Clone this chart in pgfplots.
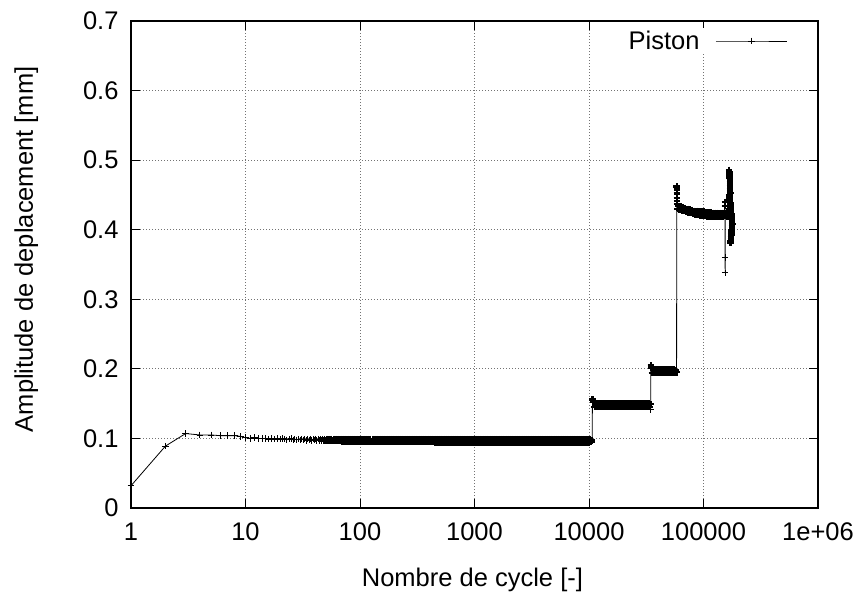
\documentclass[border=0pt]{standalone}
\usepackage{pgfplots}
\pgfplotsset{compat=1.18}
\usepackage{fontspec}
\setmainfont{Liberation Sans}
\begin{document}
\begin{tikzpicture}[font=\fontsize{25.5}{30}\selectfont]
\useasboundingbox (0,0) rectangle (861pt,594pt);
\begin{axis}[
  at={(131pt,86pt)}, anchor=south west,
  scale only axis, width=687pt, height=487pt,
  xmode=log, log basis x=10,
  xmin=1, xmax=1e6, ymin=0, ymax=0.7,
  xtick={1,10,100,1000,10000,100000,1000000},
  xticklabels={1,10,100,1000,10000,100000,1e+06},
  ytick={0,0.1,0.2,0.3,0.4,0.5,0.6,0.7},
  yticklabels={0,0.1,0.2,0.3,0.4,0.5,0.6,0.7},
  grid=major,
  major grid style={black!55, line width=0.9pt, dash pattern=on 1pt off 2pt},
  axis line style={line width=1.8pt},
  tick style={black, line width=1pt},
  major tick length=9pt, minor tick length=4.5pt,
  tick align=inside,
  yticklabel style={xshift=-9pt},
  xticklabel style={yshift=-11pt},
  xlabel={Nombre de cycle [-]},
  ylabel={Amplitude de deplacement [mm]},
  xlabel style={at={(axis description cs:0.497,-0.1612)}, anchor=base},
  ylabel style={at={(axis description cs:-0.143,0.531)}, anchor=base},
  legend style={draw=none, fill=white, at={(0.957,0.986)}, anchor=north east, inner sep=1pt, column sep=14pt},
  legend plot pos=right,
  legend image code/.code={\draw[mark repeat=2,mark phase=2,#1] plot coordinates {(0pt,0pt)(35.5pt,0pt)(71pt,0pt)};},
  thin/.style={black, line width=0.8pt, mark=+, mark size=3.3pt, mark options={line width=0.9pt}},
  dense/.style={black, line width=0.8pt, mark=+, mark size=3.3pt, mark options={line width=2.3pt}},
]
\addplot[thin] coordinates {
(1,0.032) (2,0.089) (3,0.107) (4,0.105) (5,0.105) (6,0.104) (7,0.104) (8,0.104) (9,0.103) (10,0.101)
(11,0.100) (12,0.101) (13,0.100) (14,0.100) (15,0.100) (16,0.099) (17,0.100) (18,0.099) (19,0.100) (20,0.099)
(21,0.100) (22,0.099) (23,0.098) (24,0.099) (25,0.100) (26,0.098) (27,0.099) (28,0.098) (29,0.099) (30,0.098)
(31,0.099) (32,0.098) (33,0.099) (34,0.097) (35,0.099) (36,0.098) (37,0.099) (38,0.097) (39,0.099) (40,0.098)
(41,0.099) (42,0.097) (43,0.099) (44,0.097) (45,0.099) (46,0.097) (47,0.099) (48,0.097) (49,0.099) (50,0.097)
};
\addlegendentry{Piston}
\addplot[dense, forget plot] coordinates {
(50,0.097)
(51.3,0.099) (52.5,0.097) (53.7,0.099) (55.0,0.097) (56.2,0.099) (57.5,0.097) (58.9,0.099) (60.3,0.097) (61.7,0.099) (63.1,0.097)
(64.6,0.099) (66.1,0.097) (67.6,0.099) (69.2,0.096) (70.8,0.099) (72.4,0.096) (74.1,0.099) (75.9,0.096) (77.6,0.099) (79.4,0.096)
(81.3,0.099) (83.2,0.096) (85.1,0.099) (87.1,0.096) (89.1,0.099) (91.2,0.096) (93.3,0.099) (95.5,0.096) (97.7,0.099)
(100,0.096) (102,0.099) (105,0.096) (107,0.099) (110,0.096) (112,0.099) (115,0.096) (117,0.099) (120,0.096) (123,0.099)
(126,0.096) (129,0.099) (132,0.096) (135,0.099) (138,0.096) (141,0.099) (145,0.095) (148,0.099) (151,0.095) (155,0.099)
(158,0.095) (162,0.099) (166,0.095) (170,0.099) (174,0.095) (178,0.099) (182,0.095) (186,0.099) (191,0.095) (195,0.099)
(200,0.095) (204,0.099) (209,0.095) (214,0.099) (219,0.095) (224,0.099) (229,0.095) (234,0.099) (240,0.095) (245,0.099)
(251,0.095) (257,0.099) (263,0.095) (269,0.099) (275,0.095) (282,0.099) (288,0.095) (295,0.099) (302,0.095) (309,0.099)
(316,0.095) (324,0.099) (331,0.095) (339,0.099) (347,0.095) (355,0.099) (363,0.095) (372,0.099) (380,0.095) (389,0.099)
(398,0.095) (407,0.099) (417,0.095) (427,0.099) (437,0.095) (447,0.099) (457,0.094) (468,0.099) (479,0.094) (490,0.099)
(501,0.094) (513,0.099) (525,0.094) (537,0.099) (550,0.094) (562,0.099) (575,0.094) (589,0.099) (603,0.094) (617,0.099)
(631,0.094) (646,0.099) (661,0.094) (676,0.099) (692,0.094) (708,0.099) (724,0.094) (741,0.099) (759,0.094) (776,0.099)
(794,0.094) (813,0.099) (832,0.094) (851,0.099) (871,0.094) (891,0.099) (912,0.094) (933,0.099) (955,0.094) (977,0.099)
(1000,0.094) (1023,0.099) (1047,0.094) (1072,0.099) (1096,0.094) (1122,0.099) (1148,0.094) (1175,0.099) (1202,0.094) (1230,0.099)
(1259,0.094) (1288,0.099) (1318,0.094) (1349,0.099) (1380,0.094) (1413,0.099) (1445,0.094) (1479,0.099) (1514,0.094) (1549,0.099)
(1585,0.094) (1622,0.099) (1660,0.094) (1698,0.099) (1738,0.094) (1778,0.099) (1820,0.094) (1862,0.099) (1905,0.094) (1950,0.099)
(1995,0.094) (2042,0.099) (2089,0.094) (2138,0.099) (2188,0.094) (2239,0.099) (2291,0.094) (2344,0.099) (2399,0.094) (2455,0.099)
(2512,0.094) (2570,0.099) (2630,0.094) (2692,0.099) (2754,0.094) (2818,0.099) (2884,0.094) (2951,0.099) (3020,0.094) (3090,0.099)
(3162,0.094) (3236,0.099) (3311,0.094) (3388,0.099) (3467,0.094) (3548,0.099) (3631,0.094) (3715,0.099) (3802,0.094) (3890,0.099)
(3981,0.094) (4074,0.099) (4169,0.094) (4266,0.099) (4365,0.094) (4467,0.099) (4571,0.094) (4677,0.099) (4786,0.094) (4898,0.099)
(5012,0.094) (5129,0.099) (5248,0.094) (5370,0.099) (5495,0.094) (5623,0.099) (5754,0.094) (5888,0.099) (6026,0.094) (6166,0.099)
(6310,0.094) (6457,0.099) (6607,0.094) (6761,0.099) (6918,0.094) (7079,0.099) (7244,0.094) (7413,0.099) (7586,0.094) (7762,0.099)
(7943,0.094) (8128,0.099) (8318,0.094) (8511,0.099) (8710,0.094) (8913,0.099) (9120,0.094) (9333,0.099) (9550,0.094) (9772,0.099)
(10000,0.094) (10230,0.099) (10470,0.095) (10650,0.097)
(10720,0.156) (10960,0.152) (11220,0.145) (11480,0.150) (11750,0.145) (12020,0.150) (12300,0.145) (12590,0.150) (12880,0.145) (13180,0.150)
(13490,0.145) (13800,0.150) (14130,0.145) (14450,0.150) (14790,0.145) (15140,0.150) (15490,0.145) (15850,0.150) (16220,0.145) (16600,0.150)
(16980,0.145) (17380,0.150) (17780,0.145) (18200,0.150) (18620,0.145) (19050,0.150) (19500,0.145) (19950,0.150) (20420,0.145) (20890,0.150)
(21380,0.145) (21880,0.150) (22390,0.145) (22910,0.150) (23440,0.145) (23990,0.150) (24550,0.145) (25120,0.150) (25700,0.145) (26300,0.150)
(26920,0.145) (27540,0.150) (28180,0.145) (28840,0.150) (29510,0.145) (30200,0.150) (30900,0.145) (31620,0.150) (32360,0.145) (33110,0.150)
(33880,0.145) (34400,0.149)
};
\addplot[thin, forget plot] coordinates {
(34400,0.149) (34600,0.142) (34700,0.205)
};
\addplot[dense, forget plot] coordinates {
(34700,0.205) (35000,0.201) (35480,0.194) (36310,0.199) (37150,0.194) (38020,0.199) (38900,0.194) (39810,0.199) (40740,0.194) (41690,0.199)
(42660,0.194) (43650,0.199) (44670,0.194) (45710,0.199) (46770,0.194) (47860,0.199) (48980,0.194) (50120,0.199) (51290,0.194) (52480,0.199)
(53700,0.194) (54950,0.199) (56230,0.194) (57540,0.198) (58200,0.195)
(58400,0.462) (58500,0.458) (58600,0.452) (58700,0.446) (58800,0.441) (58900,0.437) (59500,0.430) (60260,0.434) (61660,0.429) (63100,0.433)
(64570,0.428) (66070,0.432) (67610,0.427) (69180,0.431) (70790,0.426) (72440,0.430) (74130,0.425) (75860,0.429) (77620,0.424) (79430,0.428)
(81280,0.423) (83180,0.427) (85110,0.422) (87100,0.427) (89130,0.421) (91200,0.426) (93330,0.420) (95500,0.426) (97720,0.420) (100000,0.426)
(102300,0.420) (104700,0.425) (107200,0.419) (109600,0.425) (112200,0.419) (114800,0.425) (117500,0.419) (120200,0.424) (123000,0.418) (125900,0.424)
(128800,0.418) (131800,0.424) (134900,0.418) (138000,0.424) (141300,0.418) (144500,0.424) (147900,0.418) (151400,0.423)
(154000,0.440) (154200,0.434)
};
\addplot[thin, forget plot] coordinates {
(154200,0.434) (154400,0.360) (154600,0.338) (155000,0.420)
};
\addplot[dense, forget plot] coordinates {
(155000,0.420) (158500,0.424) (162200,0.419) (166000,0.425) (167000,0.430)
(167500,0.486) (167750,0.450) (168000,0.483) (168250,0.447) (168500,0.480) (168750,0.444) (169000,0.477) (169250,0.441)
(169500,0.474) (169750,0.462) (170000,0.471) (170250,0.459) (170500,0.468) (170750,0.456) (171000,0.465) (171250,0.453)
(171500,0.438) (171850,0.384) (172200,0.435) (172550,0.381) (172900,0.432) (173250,0.387) (173600,0.429) (173950,0.390)
(174300,0.426) (174650,0.393) (175000,0.423) (175350,0.396) (175700,0.420) (176050,0.399) (176400,0.417) (176750,0.402)
(177100,0.414) (177450,0.405) (177800,0.411) (178150,0.408)
};
\end{axis}
\end{tikzpicture}
\end{document}
